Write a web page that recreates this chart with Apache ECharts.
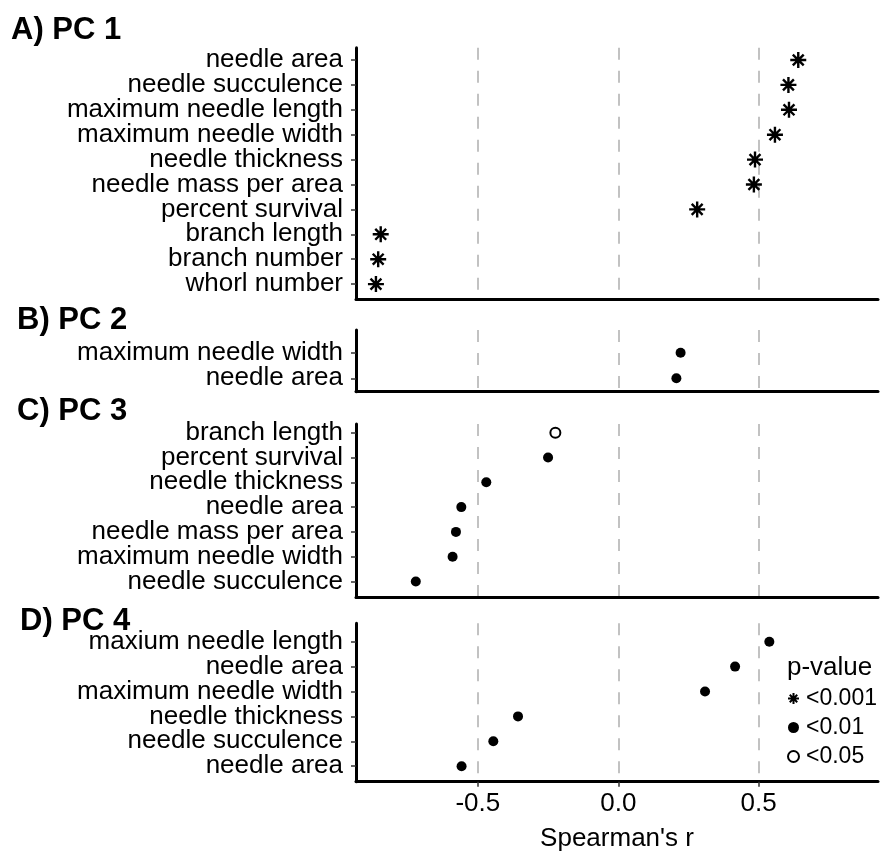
<!DOCTYPE html>
<html>
<head>
<meta charset="utf-8">
<script src="https://cdn.jsdelivr.net/npm/echarts@6/dist/echarts.min.js"></script>
<style>
  html, body { margin: 0; padding: 0; background: #fff; }
  #main { width: 883px; height: 854px; }
</style>
</head>
<body>
<div id="main"></div>
<script>
// panel A) PC 1
var catsA = ['needle area', 'needle succulence', 'maximum needle length', 'maximum needle width',
  'needle thickness', 'needle mass per area', 'percent survival', 'branch length', 'branch number', 'whorl number'];
var rA = [0.641, 0.606, 0.608, 0.558, 0.487, 0.483, 0.281, -0.846, -0.855, -0.863];
var pA = [0, 0, 0, 0, 0, 0, 0, 0, 0, 0];

// panel B) PC 2
var catsB = ['maximum needle width', 'needle area'];
var rB = [0.222, 0.207];
var pB = [1, 1];

// panel C) PC 3
var catsC = ['branch length', 'percent survival', 'needle thickness', 'needle area',
  'needle mass per area', 'maximum needle width', 'needle succulence'];
var rC = [-0.224, -0.250, -0.470, -0.559, -0.578, -0.590, -0.721];
var pC = [2, 1, 1, 1, 1, 1, 1];

// panel D) PC 4
var catsD = ['maxium needle length', 'needle area', 'maximum needle width', 'needle thickness',
  'needle succulence', 'needle area'];
var rD = [0.538, 0.416, 0.309, -0.357, -0.445, -0.558];
var pD = [1, 1, 1, 1, 1, 1];

var pLabels = ['<0.001', '<0.01', '<0.05'];
var xTicks = [-0.5, 0, 0.5];

var FONT = '"Liberation Sans", Arial, Helvetica, sans-serif';
var STAR = 'path://M5,0 L5,10 M0,5 L10,5 M1.6,1.6 L8.4,8.4 M1.6,8.4 L8.4,1.6';
var XMIN = -0.934, XMAX = 0.925;

var chart = echarts.init(document.getElementById('main'));

// top/bottom = panel box (axis lines), first/band = category rows
var panels = [
  {title: 'A) PC 1', cats: catsA, r: rA, p: pA, top: 47.7, bottom: 299, first: 60, band: 24.9, tTop: 15, tLeft: 11},
  {title: 'B) PC 2', cats: catsB, r: rB, p: pB, top: 330, bottom: 391.7, first: 352.7, band: 25.6, tTop: 305, tLeft: 17},
  {title: 'C) PC 3', cats: catsC, r: rC, p: pC, top: 424, bottom: 597.2, first: 432.7, band: 24.8, tTop: 396, tLeft: 17},
  {title: 'D) PC 4', cats: catsD, r: rD, p: pD, top: 623.3, bottom: 781.7, first: 641.7, band: 24.9, tTop: 606, tLeft: 20}
];

var grids = [], xAxes = [], yAxes = [], series = [], titles = [];

panels.forEach(function (pn, i) {
  var last = i === panels.length - 1;
  var frameIdx = 2 * i, catIdx = 2 * i + 1;

  // frame grid: axis lines + dashed reference lines
  grids.push({left: 356, right: 5, top: pn.top, height: pn.bottom - pn.top});
  // row grid: one band per category
  grids.push({left: 356, right: 5, top: pn.first - pn.band / 2, height: pn.band * pn.cats.length});

  titles.push({
    text: pn.title, left: pn.tLeft, top: pn.tTop, padding: 0,
    textStyle: {fontFamily: FONT, fontSize: 31, fontWeight: 'bold', color: '#000'}
  });

  xAxes.push({
    type: 'value', gridIndex: frameIdx, min: XMIN, max: XMAX,
    axisLine: {show: true, onZero: false, lineStyle: {color: '#000', width: 3}},
    axisTick: {show: last, customValues: xTicks, length: 5, lineStyle: {color: '#333', width: 1.5}},
    axisLabel: {show: last, customValues: xTicks, margin: 9, fontFamily: FONT, fontSize: 26, color: '#000',
      showMinLabel: true, showMaxLabel: true,
      formatter: function (v) { return v.toFixed(1); }},
    splitLine: {show: true, lineStyle: {color: '#c2c2c2', width: 2, type: [12, 11]}},
    name: last ? "Spearman's r" : '', nameLocation: 'middle', nameGap: 44,
    nameTextStyle: {fontFamily: FONT, fontSize: 26, color: '#000'}
  });
  xAxes.push({type: 'value', gridIndex: catIdx, min: XMIN, max: XMAX, show: false});

  yAxes.push({
    type: 'value', gridIndex: frameIdx, min: 0, max: 1,
    axisLine: {show: true, onZero: false, lineStyle: {color: '#000', width: 3}},
    axisTick: {show: false}, axisLabel: {show: false}, splitLine: {show: false}
  });
  yAxes.push({
    type: 'category', gridIndex: catIdx, data: pn.cats, inverse: true, boundaryGap: true,
    axisLine: {show: false, onZero: false},
    axisTick: {show: true, alignWithLabel: true, interval: 0, length: 5, lineStyle: {color: '#333', width: 1.5}},
    axisLabel: {show: true, interval: 0, margin: 13, fontFamily: FONT, fontSize: 26, color: '#000'},
    splitLine: {show: false}
  });

  [0, 1, 2].forEach(function (lvl) {
    var data = [];
    pn.r.forEach(function (v, k) { if (pn.p[k] === lvl) data.push([v, k]); });
    var s = {
      name: pLabels[lvl], type: 'scatter', xAxisIndex: catIdx, yAxisIndex: catIdx, data: data, silent: true
    };
    if (lvl === 0) {
      s.symbol = STAR; s.symbolSize = 16;
      s.itemStyle = {color: '#000', borderColor: '#000', borderWidth: 2.4, opacity: 1};
    } else if (lvl === 1) {
      s.symbol = 'circle'; s.symbolSize = 10;
      s.itemStyle = {color: '#000', opacity: 1};
    } else {
      s.symbol = 'emptyCircle'; s.symbolSize = 10;
      s.itemStyle = {color: '#000', borderColor: '#000', borderWidth: 1.6, opacity: 1};
    }
    series.push(s);
  });
});

titles.push({
  text: 'p-value', left: 787, top: 655, padding: 0,
  textStyle: {fontFamily: FONT, fontSize: 26, fontWeight: 'normal', color: '#000'}
});

var option = {
  backgroundColor: '#fff',
  animation: false,
  title: titles,
  grid: grids,
  xAxis: xAxes,
  yAxis: yAxes,
  legend: {
    orient: 'vertical', left: 787, top: 687, padding: 0,
    itemWidth: 11, itemHeight: 11, itemGap: 6,
    textStyle: {fontFamily: FONT, fontSize: 23, color: '#000', padding: [0, 0, 0, 2]},
    data: [
      {name: '<0.001', icon: STAR, itemStyle: {borderWidth: 2}},
      {name: '<0.01', icon: 'circle'},
      {name: '<0.05', icon: 'emptyCircle', itemStyle: {borderWidth: 1.4}}
    ]
  },
  series: series
};
chart.setOption(option);
</script>
</body>
</html>
